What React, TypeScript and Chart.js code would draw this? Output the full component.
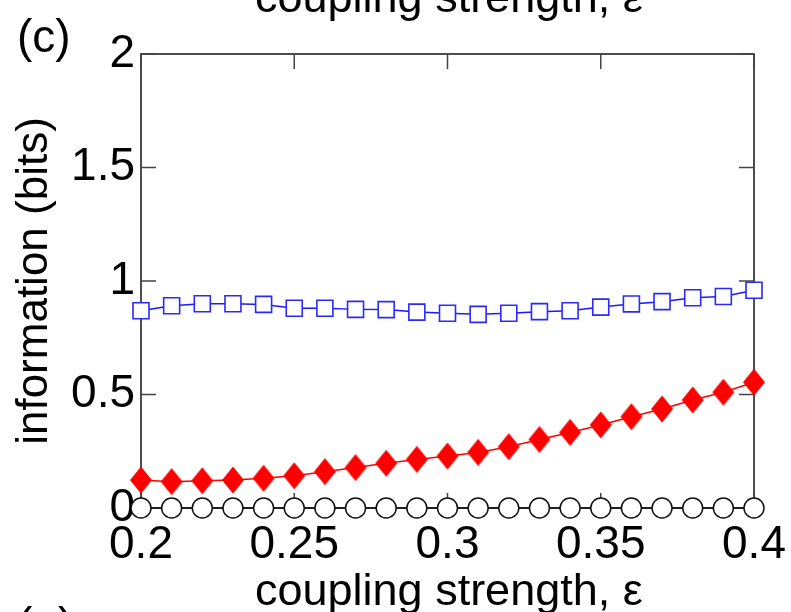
import React, { useEffect, useRef } from "react";
import { Chart, registerables } from "chart.js";

Chart.register(...registerables);

const couplingValues = [0.2, 0.21, 0.22, 0.23, 0.24, 0.25, 0.26, 0.27, 0.28, 0.29, 0.3, 0.31, 0.32, 0.33, 0.34, 0.35, 0.36, 0.37, 0.38, 0.39, 0.4];
const squareSeries = [0.869, 0.891, 0.9, 0.9, 0.897, 0.88, 0.88, 0.875, 0.874, 0.863, 0.858, 0.853, 0.858, 0.865, 0.869, 0.885, 0.899, 0.909, 0.926, 0.932, 0.959];
const diamondSeries = [0.123, 0.116, 0.12, 0.123, 0.131, 0.142, 0.16, 0.178, 0.197, 0.214, 0.229, 0.245, 0.27, 0.302, 0.333, 0.366, 0.402, 0.436, 0.476, 0.51, 0.554];
const circleSeries = [0, 0, 0, 0, 0, 0, 0, 0, 0, 0, 0, 0, 0, 0, 0, 0, 0, 0, 0, 0, 0];
const xTickValues = [0.2, 0.25, 0.3, 0.35, 0.4];
const xTickLabels = ["0.2", "0.25", "0.3", "0.35", "0.4"];
const yTickValues = [0, 0.5, 1, 1.5, 2];
const yTickLabels = ["0", "0.5", "1", "1.5", "2"];

const FONT = "'Liberation Sans', Arial, Helvetica, sans-serif";

function makeDiamond(): HTMLCanvasElement {
  const c = document.createElement("canvas");
  c.width = 24;
  c.height = 30;
  const g = c.getContext("2d")!;
  g.fillStyle = "#ff0000";
  g.beginPath();
  g.moveTo(12, 1.5);
  g.lineTo(23, 15);
  g.lineTo(12, 28.5);
  g.lineTo(1, 15);
  g.closePath();
  g.fill();
  return c;
}

const framePlugin = {
  id: "frameTicks",
  beforeDatasetsDraw(chart: any) {
    const { ctx, chartArea, scales } = chart;
    const { left, right, top, bottom } = chartArea;
    ctx.save();
    ctx.strokeStyle = "#222";
    ctx.lineWidth = 1.6;
    ctx.strokeRect(left, top, right - left, bottom - top);
    ctx.strokeStyle = "#444";
    ctx.lineWidth = 1.5;
    const tl = 15;
    ctx.beginPath();
    xTickValues.forEach((v) => {
      const px = scales.x.getPixelForValue(v);
      ctx.moveTo(px, top);
      ctx.lineTo(px, top + tl);
      ctx.moveTo(px, bottom);
      ctx.lineTo(px, bottom - tl);
    });
    yTickValues.forEach((v) => {
      const py = scales.y.getPixelForValue(v);
      ctx.moveTo(left, py);
      ctx.lineTo(left + tl, py);
      ctx.moveTo(right, py);
      ctx.lineTo(right - tl, py);
    });
    ctx.stroke();
    ctx.restore();
  },
  afterDraw(chart: any) {
    const { ctx, chartArea } = chart;
    ctx.save();
    ctx.fillStyle = "#000";
    ctx.font = `45px ${FONT}`;
    ctx.textAlign = "left";
    ctx.textBaseline = "alphabetic";
    ctx.fillText("coupling strength, \u03b5", 255, 605);
    ctx.fillText("coupling strength, \u03b5", 255, 12);
    ctx.font = `46px ${FONT}`;
    ctx.fillText("(c)", 17, 52);
    ctx.fillText("(e)", 17, 640);
    ctx.translate(35, (chartArea.top + chartArea.bottom) / 2);
    ctx.rotate(-Math.PI / 2);
    ctx.textAlign = "center";
    ctx.textBaseline = "middle";
    ctx.font = `44px ${FONT}`;
    ctx.fillText("information (bits)", 0, 0);
    ctx.restore();
  },
};

export default function App() {
  const ref = useRef<HTMLCanvasElement | null>(null);
  useEffect(() => {
    document.body.style.margin = "0";
    const canvas = ref.current!;
    const diamond = makeDiamond();
    const chart = new Chart(canvas, {
      type: "line",
      data: {
        datasets: [
          {
            label: "circles",
            data: couplingValues.map((x, i) => ({ x, y: circleSeries[i] })),
            borderColor: "#111",
            borderWidth: 1.5,
            pointStyle: "circle",
            pointRadius: 10,
            pointBorderWidth: 1.5,
            pointBorderColor: "#111",
            pointBackgroundColor: "#fff",
            clip: false,
            order: 3,
          },
          {
            label: "diamonds",
            data: couplingValues.map((x, i) => ({ x, y: diamondSeries[i] })),
            borderColor: "#ff0000",
            borderWidth: 1.5,
            pointStyle: diamond as any,
            pointRadius: 12,
            clip: false,
            order: 2,
          },
          {
            label: "squares",
            data: couplingValues.map((x, i) => ({ x, y: squareSeries[i] })),
            borderColor: "#1a1aff",
            borderWidth: 1.5,
            pointStyle: "rect",
            pointRadius: 11.3,
            pointBorderWidth: 1.6,
            pointBorderColor: "#2a2aff",
            pointBackgroundColor: "#fff",
            clip: false,
            order: 1,
          },
        ],
      },
      options: {
        animation: false,
        responsive: false,
        devicePixelRatio: 1,
        layout: { padding: { top: 54, right: 37, left: 0, bottom: 0 } },
        plugins: { legend: { display: false }, tooltip: { enabled: false } },
        scales: {
          x: {
            type: "linear",
            position: "bottom",
            min: 0.2,
            max: 0.4,
            grid: { display: false, drawTicks: false },
            border: { display: false },
            afterBuildTicks: (s: any) => {
              s.ticks = xTickValues.map((v) => ({ value: v }));
            },
            afterFit: (s: any) => {
              s.height = 104;
              s.paddingLeft = 0;
              s.paddingRight = 0;
            },
            ticks: {
              autoSkip: false,
              maxRotation: 0,
              padding: 10,
              color: "#000",
              font: { family: FONT, size: 46 },
              callback: (v: any) => {
                const i = xTickValues.indexOf(Number(v));
                return i >= 0 ? xTickLabels[i] : "";
              },
            },
          },
          y: {
            type: "linear",
            min: 0,
            max: 2,
            grid: { display: false, drawTicks: false },
            border: { display: false },
            afterBuildTicks: (s: any) => {
              s.ticks = yTickValues.map((v) => ({ value: v }));
            },
            afterFit: (s: any) => {
              s.width = 141;
              s.paddingTop = 0;
              s.paddingBottom = 0;
            },
            ticks: {
              autoSkip: false,
              padding: 6,
              color: "#000",
              font: { family: FONT, size: 46 },
              callback: (v: any) => {
                const i = yTickValues.indexOf(Number(v));
                return i >= 0 ? yTickLabels[i] : "";
              },
            },
          },
        },
      },
      plugins: [framePlugin],
    });
    return () => chart.destroy();
  }, []);
  return (
    <div style={{ position: "absolute", left: 0, top: 0, width: 791, height: 612 }}>
      <canvas ref={ref} width={791} height={612} style={{ width: 791, height: 612 }} />
    </div>
  );
}
